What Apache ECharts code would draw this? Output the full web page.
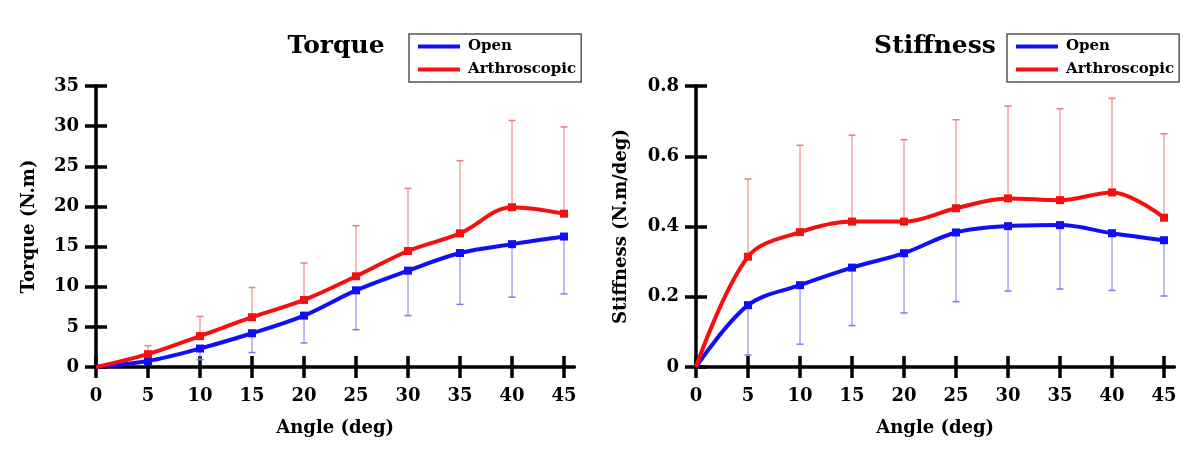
<!DOCTYPE html>
<html>
<head>
<meta charset="utf-8">
<script src="https://cdn.jsdelivr.net/npm/echarts@6/dist/echarts.min.js"></script>
<style>html,body{margin:0;padding:0;background:#fff}#c{width:1200px;height:462px}</style>
</head>
<body>
<div id="c"></div>
<script>
const angles = [0, 5, 10, 15, 20, 25, 30, 35, 40, 45];
const torqueOpen = [0, 0.75, 2.3, 4.2, 6.4, 9.55, 12.0, 14.2, 15.3, 16.25];
const torqueArthro = [0, 1.6, 3.85, 6.2, 8.35, 11.3, 14.45, 16.65, 19.9, 19.1];
const torqueOpenLow = [null, 0.4, 0.9, 1.8, 3.0, 4.65, 6.4, 7.8, 8.7, 9.1];
const torqueArthroHigh = [null, 2.65, 6.3, 9.9, 12.95, 17.6, 22.25, 25.7, 30.7, 29.9];
const stiffOpen = [0, 0.176, 0.233, 0.283, 0.324, 0.383, 0.401, 0.404, 0.381, 0.361];
const stiffArthro = [0, 0.314, 0.384, 0.414, 0.414, 0.452, 0.480, 0.475, 0.497, 0.425];
const stiffOpenLow = [null, 0.034, 0.065, 0.118, 0.154, 0.186, 0.216, 0.222, 0.218, 0.202];
const stiffArthroHigh = [null, 0.535, 0.631, 0.660, 0.647, 0.704, 0.743, 0.735, 0.765, 0.664];
const angleTicks = [0, 5, 10, 15, 20, 25, 30, 35, 40, 45];
const torqueTicks = [0, 5, 10, 15, 20, 25, 30, 35];
const stiffTicks = [0, 0.2, 0.4, 0.6, 0.8];

const FONT = 'DejaVu Serif';
const BLUE = '#1010f5', RED = '#f51010';
const BLUE_ERR = '#7a7af0', RED_ERR = '#f07a7a';
const chart = echarts.init(document.getElementById('c'));

function lineData(ys) {
  return angles.map((x, i) => i === 0 ? { value: [x, ys[i]], symbolSize: 0 } : [x, ys[i]]);
}
function errData(ys, es) {
  return angles.map((x, i) => es[i] == null ? null : [x, ys[i], es[i]]).filter(d => d);
}
function errRender(params, api) {
  const x = api.value(0), y = api.value(1), e = api.value(2);
  const p0 = api.coord([x, y]), p1 = api.coord([x, e]);
  const c = api.visual('color');
  return {
    type: 'group', children: [
      { type: 'line', shape: { x1: p0[0], y1: p0[1], x2: p1[0], y2: p1[1] }, style: { stroke: c, lineWidth: 1 } },
      { type: 'line', shape: { x1: p1[0] - 3.5, y1: p1[1], x2: p1[0] + 3.5, y2: p1[1] }, style: { stroke: c, lineWidth: 1.5 } }
    ]
  };
}
const axLine = { show: true, onZero: false, lineStyle: { color: '#000', width: 3.5 } };
const tickStyle = { width: 3.5, color: '#000' };
function xAxes(grid) {
  const base = { type: 'value', gridIndex: grid, min: 0, max: 46, position: 'bottom', splitLine: { show: false } };
  return [
    Object.assign({}, base, {
      axisLine: axLine,
      axisTick: { show: true, inside: false, length: 11, lineStyle: tickStyle, customValues: angleTicks },
      axisLabel: { customValues: angleTicks, margin: 20, fontFamily: FONT, fontWeight: 'bold', fontSize: 18, color: '#000' },
      name: 'Angle (deg)', nameLocation: 'middle', nameGap: 52,
      nameTextStyle: { fontFamily: FONT, fontWeight: 'bold', fontSize: 18, color: '#000' }
    }),
    Object.assign({}, base, {
      axisLine: { show: false, onZero: false },
      axisTick: { show: true, inside: true, length: 11, lineStyle: tickStyle, customValues: angleTicks },
      axisLabel: { show: false, customValues: angleTicks }
    })
  ];
}
function yAxes(grid, max, interval, name, gap) {
  const base = { type: 'value', gridIndex: grid, min: 0, max: max, interval: interval, position: 'left', splitLine: { show: false } };
  return [
    Object.assign({}, base, {
      axisLine: axLine,
      axisTick: { show: true, inside: false, length: 11, lineStyle: tickStyle },
      axisLabel: { margin: 17, fontFamily: FONT, fontWeight: 'bold', fontSize: 18, color: '#000' },
      name: name, nameLocation: 'middle', nameGap: gap,
      nameTextStyle: { fontFamily: FONT, fontWeight: 'bold', fontSize: 18, color: '#000' }
    }),
    Object.assign({}, base, {
      axisLine: { show: false, onZero: false },
      axisTick: { show: true, inside: true, length: 11, lineStyle: tickStyle },
      axisLabel: { show: false }
    })
  ];
}
function legend(left) {
  return {
    left: left, top: 34, orient: 'vertical', data: ['Open', 'Arthroscopic'],
    icon: 'rect', itemWidth: 42, itemHeight: 4, itemGap: 8,
    padding: [5, 5, 5, 9], borderColor: '#555', borderWidth: 1.5,
    selectedMode: false,
    textStyle: { fontFamily: FONT, fontWeight: 'bold', fontSize: 15, color: '#000', padding: [0, 0, 0, 3] }
  };
}
function lineSeries(name, color, xi, yi, ys) {
  return {
    name: name, type: 'line', xAxisIndex: xi, yAxisIndex: yi, data: lineData(ys),
    smooth: 0.35, symbol: 'rect', symbolSize: 8, showAllSymbol: true,
    lineStyle: { color: color, width: 4 }, itemStyle: { color: color }, z: 3
  };
}
function errSeries(name, color, xi, yi, ys, es) {
  return {
    name: name, type: 'custom', xAxisIndex: xi, yAxisIndex: yi, data: errData(ys, es),
    encode: { x: 0, y: [1, 2] }, renderItem: errRender, itemStyle: { color: color }, z: 1, silent: true
  };
}
const torqueMax = torqueTicks[torqueTicks.length - 1];
const stiffMax = stiffTicks[stiffTicks.length - 1];

chart.setOption({
  animation: false,
  title: [
    { text: 'Torque', left: 336, top: 34, textAlign: 'center', padding: 0,
      textStyle: { fontFamily: FONT, fontWeight: 'bold', fontSize: 25, color: '#000' } },
    { text: 'Stiffness', left: 935, top: 34, textAlign: 'center', padding: 0,
      textStyle: { fontFamily: FONT, fontWeight: 'bold', fontSize: 25, color: '#000' } }
  ],
  legend: [legend(409), legend(1007)],
  grid: [
    { left: 96, top: 86, width: 478.4, height: 281 },
    { left: 696, top: 86, width: 478.4, height: 281 }
  ],
  xAxis: xAxes(0).concat(xAxes(1)),
  yAxis: yAxes(0, torqueMax, 5, 'Torque (N.m)', 58).concat(yAxes(1, stiffMax, 0.2, 'Stiffness (N.m/deg)', 66)),
  series: [
    errSeries('Open SD T', BLUE_ERR, 0, 0, torqueOpen, torqueOpenLow),
    errSeries('Arthroscopic SD T', RED_ERR, 0, 0, torqueArthro, torqueArthroHigh),
    lineSeries('Open', BLUE, 0, 0, torqueOpen),
    lineSeries('Arthroscopic', RED, 0, 0, torqueArthro),
    errSeries('Open SD S', BLUE_ERR, 2, 2, stiffOpen, stiffOpenLow),
    errSeries('Arthroscopic SD S', RED_ERR, 2, 2, stiffArthro, stiffArthroHigh),
    lineSeries('Open', BLUE, 2, 2, stiffOpen),
    lineSeries('Arthroscopic', RED, 2, 2, stiffArthro)
  ]
});
</script>
</body>
</html>
